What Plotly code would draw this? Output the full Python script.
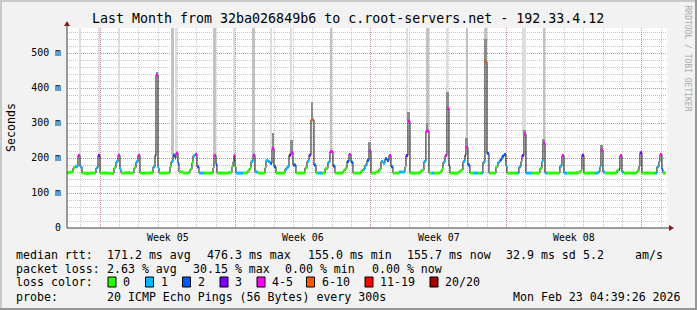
import plotly.graph_objects as go

# ---------------- data ----------------
# time in days since 2026-01-24 00:00 ; week boundaries are Mondays
week_starts = [2, 9, 16, 23, 30]
week_mid = [5.5, 12.5, 19.5, 26.5]
week_labels = ["Week 05", "Week 06", "Week 07", "Week 08"]
x_range = [0.295, 31.295]

t_day = [
    0.295, 0.450, 0.605, 0.708, 0.863, 0.967, 1.070,
    1.277, 1.483,
    1.793, 1.897, 2.000,
    2.258, 2.516,
    2.723, 2.826, 2.930, 3.033, 3.085,
    3.291, 3.550,
    3.756, 3.860, 3.963, 4.066,
    4.325, 4.583,
    4.738, 4.841, 4.893, 4.996, 5.048,
    5.254, 5.513,
    5.616, 5.668, 5.771, 5.874, 5.926, 6.029, 6.081,
    6.288, 6.546,
    6.649, 6.753, 6.804, 6.908, 7.011, 7.114,
    7.269, 7.373, 7.683,
    7.838, 7.889, 7.993, 8.044,
    8.302, 8.612,
    8.819, 8.871, 8.922, 8.974, 9.026, 9.284, 9.387,
    9.542,
    9.646, 9.749, 9.801, 9.904, 10.007,
    10.162, 10.472,
    10.524, 10.576, 10.679, 10.782, 10.886, 10.989, 11.092,
    11.299, 11.505,
    11.557, 11.660, 11.764, 11.867, 11.970, 12.125,
    12.332, 12.539,
    12.590, 12.694, 12.797, 12.900, 13.055, 13.159,
    13.262, 13.469,
    13.624, 13.778, 13.882, 14.037, 14.140,
    14.398,
    14.553, 14.657, 14.760, 14.863, 14.967, 15.070,
    15.277,
    15.483, 15.587, 15.690, 15.793, 15.897, 16.000,
    16.103,
    16.258, 16.413, 16.517, 16.620, 16.723, 16.827, 16.930, 17.033, 17.137,
    17.343,
    17.446, 17.601, 17.756, 17.808, 17.911, 18.015,
    18.221, 18.428,
    18.583, 18.738, 18.841, 18.996, 19.151, 19.255,
    19.410,
    19.565, 19.668, 19.720, 19.823, 19.926, 20.030, 20.081,
    20.288,
    20.546, 20.649, 20.753, 20.856, 20.908, 21.011, 21.114,
    21.321, 21.528, 21.683,
    21.786, 21.889, 21.993, 22.096,
    22.303,
    22.458, 22.561, 22.664, 22.768, 22.871, 22.974, 23.026,
    23.233, 23.542,
    23.646, 23.749, 23.801, 23.904, 24.007, 24.214, 24.317,
    24.524,
    24.731, 24.834, 24.886, 24.989, 25.092,
    25.299, 25.557,
    25.764, 25.867, 25.971, 26.126,
    26.384, 26.642,
    26.745, 26.849, 26.900, 27.004,
    27.314, 27.572,
    27.727, 27.830, 27.882, 27.985, 28.089,
    28.347,
    28.709, 28.812, 28.864, 28.967, 29.070,
    29.380,
    29.742, 29.845, 29.897, 30.000,
    30.310, 30.517,
    30.672, 30.775, 30.878, 30.930, 31.033, 31.085, 31.240,
]

median_ms = [
    158, 160, 172, 176, 207, 175, 157,
    156, 157,
    172, 207, 157,
    157, 156,
    172, 189, 208, 168, 157,
    158, 157,
    172, 189, 208, 157,
    157, 158,
    175, 207, 437, 172, 157,
    157, 158,
    175, 189, 208, 200, 214, 185, 160,
    157, 158,
    168, 187, 206, 210, 175, 157,
    157, 157, 157,
    172, 207, 182, 157,
    157, 158,
    175, 189, 208, 175, 157, 157, 157,
    158,
    165, 172, 190, 208, 160,
    157, 157,
    172, 193, 190, 185, 227, 175, 157,
    157, 158,
    168, 175, 208, 215, 180, 157,
    157, 158,
    172, 190, 208, 309, 180, 157,
    157, 157,
    170, 188, 218, 177, 157,
    157,
    163, 170, 190, 210, 188, 157,
    157,
    163, 168, 180, 193, 220, 157,
    157,
    160, 168, 190, 185, 198, 193, 207, 175, 157,
    157,
    160, 160, 175, 207, 305, 157,
    157, 158,
    165, 190, 277, 157, 157, 157,
    157,
    160, 168, 188, 207, 342, 177, 157,
    157,
    162, 166, 190, 208, 231, 180, 157,
    157, 157, 157,
    188, 475, 213, 157,
    157,
    175, 188, 195, 205, 210, 177, 157,
    157, 157,
    175, 190, 207, 268, 157, 157, 157,
    157,
    170, 190, 242, 157, 157,
    157, 157,
    177, 207, 157, 157,
    157, 158,
    160, 165, 208, 157,
    157, 157,
    160, 175, 223, 160, 157,
    157,
    165, 168, 207, 160, 157,
    157,
    163, 177, 215, 157,
    157, 157,
    157, 175, 190, 210, 168, 157, 157,
]

# lost pings (out of 20) for each median step
loss_n = [
    0, 0, 0, 1, 4, 1, 0,
    0, 0,
    1, 3, 0,
    0, 0,
    0, 1, 4, 1, 0,
    0, 0,
    0, 1, 4, 0,
    0, 0,
    1, 3, 4, 1, 0,
    0, 0,
    0, 1, 2, 2, 4, 2, 0,
    0, 0,
    0, 0, 1, 4, 2, 1,
    1, 0, 0,
    0, 4, 2, 0,
    0, 0,
    0, 1, 4, 1, 1, 1, 0,
    0,
    0, 0, 1, 4, 1,
    0, 0,
    0, 1, 1, 2, 4, 2, 0,
    0, 0,
    1, 1, 3, 4, 2, 0,
    0, 0,
    0, 1, 3, 6, 2, 0,
    1, 0,
    0, 1, 4, 2, 0,
    0,
    0, 0, 2, 4, 2, 0,
    0,
    0, 1, 1, 2, 4, 0,
    0,
    0, 0, 1, 1, 2, 2, 4, 2, 0,
    0,
    1, 1, 0, 3, 4, 0,
    0, 0,
    0, 1, 4, 0, 1, 0,
    0,
    0, 0, 1, 4, 4, 2, 0,
    0,
    0, 0, 1, 3, 4, 2, 0,
    1, 0, 1,
    1, 6, 2, 0,
    0,
    0, 1, 2, 2, 2, 1, 0,
    0, 1,
    1, 1, 3, 4, 1, 1, 0,
    0,
    0, 1, 4, 1, 0,
    0, 0,
    1, 4, 1, 0,
    0, 0,
    0, 0, 3, 0,
    0, 1,
    1, 1, 4, 1, 0,
    0,
    0, 2, 4, 1, 0,
    0,
    0, 1, 3, 0,
    0, 0,
    1, 1, 1, 4, 2, 0, 0,
]

# tall smoke stripes (pings far above the graph top)
stripe_t = [0.967, 1.948, 2.981, 5.771, 5.952, 7.941, 8.948, 9.955, 10.860,
            11.867, 13.934, 17.860, 18.918, 19.952, 20.959, 21.941, 23.904, 24.937]
stripe_w = [0.078, 0.129, 0.052, 0.103, 0.052, 0.103, 0.052, 0.103, 0.052,
            0.129, 0.103, 0.129, 0.155, 0.067, 0.119, 0.155, 0.207, 0.129]
stripe_base = [207, 207, 208, 208, 214, 207, 208, 208, 227,
               215, 218, 305, 277, 342, 231, 475, 268, 242]
stripe_shade = ["light", "light", "light", "medium", "light", "medium", "light", "medium", "light",
                "light", "medium", "light", "medium", "light", "medium", "medium", "light", "medium"]

# darker smoke just above the bigger peaks
smoke_t = [4.944, 10.937, 11.918, 12.978, 15.948, 17.963, 18.918, 19.978,
           20.959, 21.941, 23.955, 24.937, 27.933]
smoke_lo = [437, 227, 215, 309, 220, 305, 277, 342, 231, 475, 268, 242, 223]
smoke_hi = [447, 271, 251, 361, 247, 331, 300, 390, 257, 540, 280, 255, 237]

loss_labels = ["0", "1", "2", "3", "4-5", "6-10", "11-19", "20/20"]
loss_upper = [0, 1, 2, 3, 5, 10, 19, 20]
loss_colors = ["#26ff00", "#00b8ff", "#0059ff", "#7e00ff",
               "#ff00ff", "#ff5500", "#ff0000", "#a10000"]

y_ticks = [0, 100, 200, 300, 400, 500]
y_ticktext = ["0", "100 m", "200 m", "300 m", "400 m", "500 m"]

title_text = "Last Month from 32ba026849b6 to c.root-servers.net - 192.33.4.12"
stats_rtt = ["171.2 ms avg", "476.3 ms max", "155.0 ms min", "155.7 ms now", "32.9 ms sd", "5.2", "am/s"]
stats_loss = ["2.63 % avg", "30.15 % max", "0.00 % min", "0.00 % now"]
probe_text = "20 ICMP Echo Pings (56 Bytes) every 300s"
date_text = "Mon Feb 23 04:39:26 2026"

# ---------------- geometry / style ----------------
W, H = 697, 310
ML, MR, MT, MB = 67, 30, 28, 82
PW, PH = W - ML - MR, H - MT - MB
Y_TOP = PH / 0.35  # 0.35 px per ms
FONT = "DejaVu Sans Mono"
BACK = "#F2F2F2"
MGRID = "rgba(225,90,90,0.55)"
GRID = "rgba(150,150,150,0.55)"


def px(x):
    return (x - ML) / PW


def py(y):
    return (H - MB - y) / PH


def loss_class(n):
    for k, ub in enumerate(loss_upper):
        if n <= ub:
            return k
    return len(loss_upper) - 1


fig = go.Figure()

shade_col = {"light": "#DDDDDD", "medium": "#C2C2C2"}
fig.add_trace(go.Bar(
    x=stripe_t, y=[Y_TOP - b for b in stripe_base], base=stripe_base, width=stripe_w,
    marker=dict(color=[shade_col[s] for s in stripe_shade], line=dict(width=0)),
    hoverinfo="skip"))
fig.add_trace(go.Bar(
    x=smoke_t, y=[h - l for h, l in zip(smoke_hi, smoke_lo)], base=smoke_lo, width=0.1,
    marker=dict(color="#8C8C8C", line=dict(width=0)), hoverinfo="skip"))

fig.add_trace(go.Scatter(x=t_day, y=median_ms, mode="lines",
                         line=dict(color="#111111", width=1, shape="hv"), hoverinfo="skip"))

seg = {k: ([], []) for k in range(len(loss_labels))}
for i in range(len(t_day) - 1):
    k = loss_class(loss_n[i])
    seg[k][0].extend([t_day[i], t_day[i + 1], None])
    seg[k][1].extend([median_ms[i], median_ms[i], None])
for k, (xs, ys) in seg.items():
    if xs:
        fig.add_trace(go.Scatter(x=xs, y=ys, mode="lines",
                                 line=dict(color=loss_colors[k], width=3), hoverinfo="skip"))

shapes = []
# canvas frame
shapes += [
    dict(type="rect", xref="paper", yref="paper", x0=px(0), x1=px(W), y0=py(0), y1=py(2),
         fillcolor="#C8C8C8", line=dict(width=0), layer="above"),
    dict(type="rect", xref="paper", yref="paper", x0=px(0), x1=px(2), y0=py(0), y1=py(H),
         fillcolor="#C8C8C8", line=dict(width=0), layer="above"),
    dict(type="rect", xref="paper", yref="paper", x0=px(0), x1=px(W), y0=py(H - 2), y1=py(H),
         fillcolor="#969696", line=dict(width=0), layer="above"),
    dict(type="rect", xref="paper", yref="paper", x0=px(W - 2), x1=px(W), y0=py(0), y1=py(H),
         fillcolor="#969696", line=dict(width=0), layer="above"),
]
# axes + arrows
shapes += [
    dict(type="line", xref="paper", yref="paper", x0=px(67), x1=px(671), y0=0, y1=0,
         line=dict(color="#404040", width=1), layer="above"),
    dict(type="line", xref="paper", yref="paper", x0=0, x1=0, y0=0, y1=py(24),
         line=dict(color="#404040", width=1), layer="above"),
    dict(type="path", xref="paper", yref="paper",
         path=f"M {px(674)} {py(228)} L {px(669)} {py(225)} L {px(669)} {py(231)} Z",
         fillcolor="#8B1A1A", line=dict(width=0), layer="above"),
    dict(type="path", xref="paper", yref="paper",
         path=f"M {px(67)} {py(21)} L {px(64)} {py(26)} L {px(70)} {py(26)} Z",
         fillcolor="#8B1A1A", line=dict(width=0), layer="above"),
]

ann = []


def text(x, y, s, size=11.6, anchor="left", color="#000000", angle=0):
    ann.append(dict(x=px(x), y=py(y), xref="paper", yref="paper", text=s, showarrow=False,
                    xanchor=anchor, yanchor="middle", textangle=angle, borderpad=0, borderwidth=0,
                    font=dict(family=FONT, size=size, color=color)))


text(348, 18.5, title_text, size=13.3, anchor="center")
text(11, 128, "Seconds", size=11.6, anchor="center", angle=-90)
text(687, 58.5, "RRDTOOL / TOBI OETIKER", size=8, anchor="center", color="#AAAAAA", angle=90)

for xm, lab in zip(week_mid, week_labels):
    ann.append(dict(x=xm, y=py(237.5), xref="x", yref="paper", text=lab, showarrow=False,
                    xanchor="center", yanchor="middle", borderpad=0, borderwidth=0,
                    font=dict(family=FONT, size=9.9, color="#000000")))

r1, r2, r3, r4 = 254.5, 268.5, 282, 296.5
text(15.5, r1, "median rtt:")
for x, s in zip([106.5, 206.5, 307.5, 406.5, 506, 582.5, 634.5], stats_rtt):
    text(x, r1, s)
text(15.5, r2, "packet loss:")
for x, s in zip([106.5, 192.5, 284.5, 372], stats_loss):
    text(x, r2, s)
text(15.5, r3, "loss color:")
box_x = [108, 145.5, 182.5, 220, 257, 306.5, 365, 430]
for bx, lab, col in zip(box_x, loss_labels, loss_colors):
    shapes.append(dict(type="rect", xref="paper", yref="paper", x0=px(bx), x1=px(bx + 8),
                       y0=py(r3 + 5), y1=py(r3 - 5), fillcolor=col,
                       line=dict(color="#000000", width=1), layer="above"))
    text(bx + 15, r3, lab)
text(15.5, r4, "probe:")
text(106.5, r4, probe_text)
text(681, r4, date_text, anchor="right")

fig.update_layout(
    width=W, height=H, margin=dict(l=ML, r=MR, t=MT, b=MB, pad=0),
    paper_bgcolor=BACK, plot_bgcolor="#FFFFFF", showlegend=False,
    barmode="overlay", bargap=0,
    font=dict(family=FONT, size=10, color="#000000"),
    xaxis=dict(range=x_range, tickmode="array", tickvals=week_starts, showticklabels=False,
               ticks="", showgrid=True, gridcolor=MGRID, gridwidth=1, griddash="1px,1px",
               zeroline=False, showline=False, fixedrange=True,
               minor=dict(tickmode="linear", tick0=0, dtick=1, showgrid=True,
                          gridcolor=GRID, griddash="1px,1px", gridwidth=1, ticks="")),
    yaxis=dict(range=[0, Y_TOP], tickmode="array", tickvals=y_ticks, ticktext=y_ticktext,
               ticks="", ticklabelstandoff=5, showgrid=True, gridcolor=MGRID, gridwidth=1,
               griddash="1px,1px", zeroline=False, showline=False, fixedrange=True,
               tickfont=dict(family=FONT, size=9.9, color="#000000"),
               minor=dict(tickmode="linear", tick0=0, dtick=20, showgrid=True,
                          gridcolor=GRID, griddash="1px,1px", gridwidth=1, ticks="")),
    shapes=shapes, annotations=ann,
)

fig.write_html("out.html")
